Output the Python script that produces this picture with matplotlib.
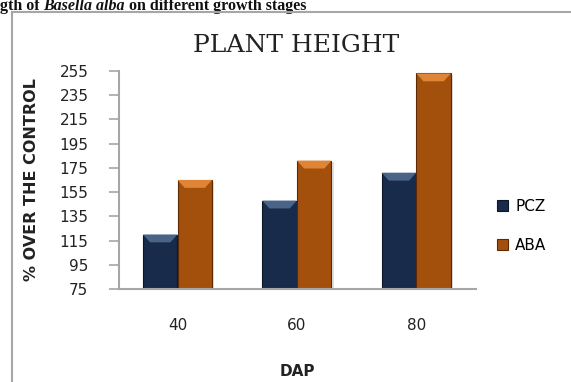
import matplotlib
matplotlib.use("Agg")
import matplotlib.pyplot as plt
from matplotlib.patches import Polygon, Rectangle
import numpy as np

# Data
categories = ["40", "60", "80"]
pcz = [120, 148, 171]
aba = [165, 181, 253]
series_names = ["PCZ", "ABA"]
y_ticks = [75, 95, 115, 135, 155, 175, 195, 215, 235, 255]

body_colors = ["#182b4b", "#a4500d"]
bevel_colors = ["#4a6488", "#e08535"]
edge_colors = ["#0c1628", "#5c2905"]

fig = plt.figure(figsize=(5.71, 3.82), dpi=100)
fig.patch.set_facecolor("white")

# Outer chart frame (left and top edges)
frame_x = 12 / 571
frame_y = 1 - 12 / 382
fig.add_artist(plt.Line2D([frame_x, frame_x], [0, frame_y], color="#a6a6a6", lw=1.5,
                          transform=fig.transFigure))
fig.add_artist(plt.Line2D([frame_x, 1], [frame_y, frame_y], color="#a6a6a6", lw=1.5,
                          transform=fig.transFigure))

ax = fig.add_axes([119 / 571, (382 - 289) / 382, 357 / 571, 218 / 382])
ax.set_xlim(-0.49, 2.5)
ax.set_ylim(75, 255)

# Running caption above the chart, with the species name in italics
cap_kw = dict(fontsize=11.5, fontweight="bold", family="Liberation Serif",
              color="#111111", annotation_clip=False)
t1 = ax.annotate("gth of ", xy=(0.0, 1 - 10.5 / 382), xycoords="figure fraction",
                 ha="left", va="baseline", **cap_kw)
t2 = ax.annotate("Basella alba", xy=(1, 0), xycoords=t1, ha="left", va="bottom",
                 style="italic", **cap_kw)
t3 = ax.annotate(" on different growth stages", xy=(1, 0), xycoords=t2,
                 ha="left", va="bottom", **cap_kw)

x = np.arange(len(categories))
w = 0.289
off = 0.145

for vals, dx, bc, bv, ec, name in zip([pcz, aba], [-off, off], body_colors,
                                      bevel_colors, edge_colors, series_names):
    # soft shadow
    for xi, v in zip(x + dx, vals):
        ax.add_patch(Rectangle((xi - w / 2 + 0.02, 75), w, v - 75 - 1.5,
                               facecolor="#000000", alpha=0.12, lw=0, zorder=1))
    ax.bar(x + dx, [v - 75 for v in vals], bottom=75, width=w, color=bc,
           edgecolor=ec, linewidth=0.8, label=name, zorder=2)
    # bevelled top face
    for xi, v in zip(x + dx, vals):
        bx = 0.06
        by = 6.5
        top = Polygon([[xi - w / 2, v], [xi + w / 2, v],
                       [xi + w / 2 - bx, v - by], [xi - w / 2 + bx, v - by]],
                      closed=True, facecolor=bv, edgecolor="none", zorder=3)
        ax.add_patch(top)

for s in ["top", "right"]:
    ax.spines[s].set_visible(False)
for s in ["left", "bottom"]:
    ax.spines[s].set_color("#a6a6a6")
    ax.spines[s].set_linewidth(1.5)

ax.set_yticks(y_ticks)
ax.set_yticklabels([str(t) for t in y_ticks], fontsize=11, color="#222222")
ax.tick_params(axis="y", length=7, width=1.2, color="#a6a6a6", pad=15)
ax.set_xticks(x)
ax.set_xticklabels(categories, fontsize=11, color="#222222")
ax.tick_params(axis="x", length=0, pad=21)

ax.set_ylabel("% OVER THE CONTROL", fontsize=11.5, fontweight="bold",
              color="#222222", labelpad=15)
ax.set_xlabel("DAP", fontsize=11, fontweight="bold", color="#222222", labelpad=22)

fig.text(296 / 571, 1 - 45 / 382, "PLANT HEIGHT", fontsize=18,
         family="DejaVu Serif", ha="center", va="center", color="#222222")

ax.legend(loc="center left", bbox_to_anchor=(1.02, 0.29), frameon=False,
          fontsize=11, handlelength=0.7, handleheight=0.7,
          labelspacing=1.6, handletextpad=0.5)

fig.savefig("out.png", dpi=100, facecolor="white")
